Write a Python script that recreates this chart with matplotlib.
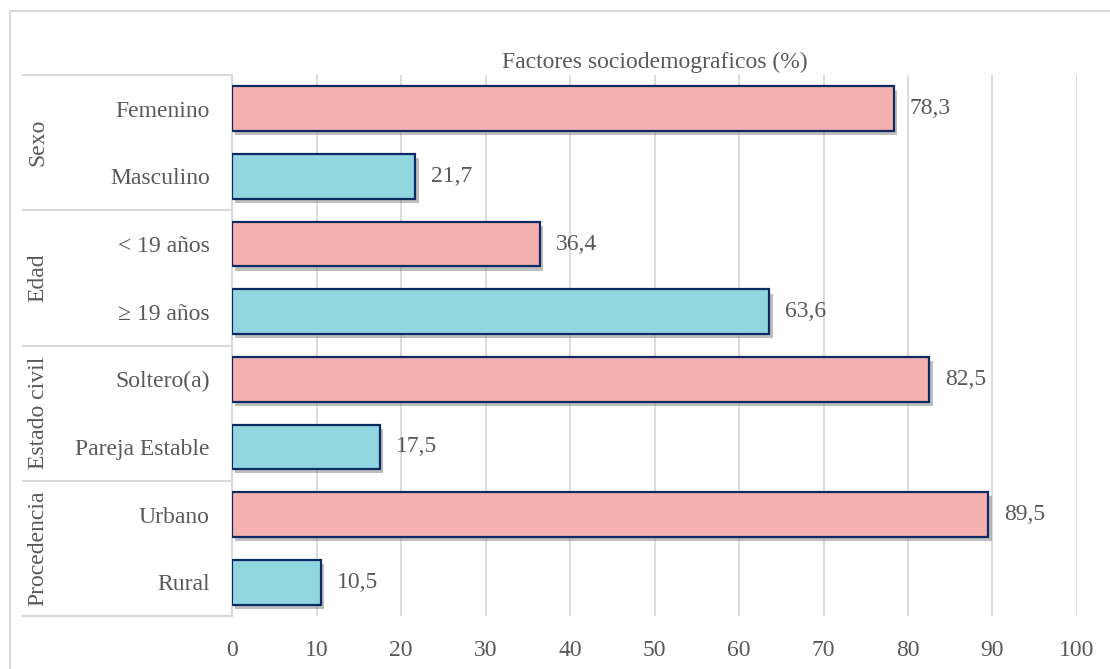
import matplotlib
matplotlib.use("Agg")
import matplotlib.pyplot as plt
import matplotlib.patheffects as pe
from matplotlib.patches import Rectangle
from matplotlib.transforms import blended_transform_factory

# data
categories = ['Femenino', 'Masculino', '< 19 años', '≥ 19 años',
              'Soltero(a)', 'Pareja Estable', 'Urbano', 'Rural']
values = [78.3, 21.7, 36.4, 63.6, 82.5, 17.5, 89.5, 10.5]
groups = ['Sexo', 'Edad', 'Estado civil', 'Procedencia']
title = 'Factores sociodemograficos (%)'

PINK = '#F5B1AF'
CYAN = '#91D6DE'
EDGE = '#0E2A62'
GRID = '#D9D9D9'
TXT = '#595959'

plt.rcParams['font.family'] = ['Liberation Serif', 'DejaVu Serif']
FS = 17

W, H = 1110, 669
fig = plt.figure(figsize=(W / 100, H / 100), dpi=100)
ax = fig.add_axes([232 / W, 1 - 616 / H, (1077 - 232) / W, (616 - 75) / H])

ypos = list(range(len(categories)))
colors = [PINK if i % 2 == 0 else CYAN for i in ypos]
bars = ax.barh(ypos, values, height=0.66, color=colors, edgecolor=EDGE,
               linewidth=1.6, zorder=3)
for b in bars:
    b.set_path_effects([pe.SimplePatchShadow(offset=(2.5, -3), shadow_rgbFace='#7f7f7f', alpha=0.5),
                        pe.Normal()])

for y, v in zip(ypos, values):
    ax.text(v + 1.9, y, f'{v:.1f}'.replace('.', ','), va='center', ha='left',
            fontsize=FS, color=TXT)

ax.set_xlim(0, 100)
ax.set_ylim(len(categories) - 0.5, -0.5)
ax.set_xticks(range(0, 101, 10))
ax.set_yticks(ypos)
ax.set_yticklabels(categories)
ax.tick_params(axis='both', length=0, labelsize=FS, labelcolor=TXT)
ax.tick_params(axis='y', pad=16)
ax.tick_params(axis='x', pad=17)
ax.grid(axis='x', color=GRID, linewidth=1.3, zorder=0)
for s in ['top', 'right', 'bottom']:
    ax.spines[s].set_visible(False)
ax.spines['left'].set_color(GRID)
ax.spines['left'].set_linewidth(1.5)

ax.set_title(title, fontsize=FS, color=TXT, pad=5)

# group separators and labels on the left
tr = blended_transform_factory(fig.transFigure, ax.transData)
for k in range(len(groups) + 1):
    yb = 2 * k - 0.5
    ax.plot([23 / W, 232 / W], [yb, yb], transform=tr, color=GRID, lw=1.5,
            clip_on=False, zorder=1)
for k, g in enumerate(groups):
    ax.text(38 / W, 2 * k + 0.5, g, transform=tr, rotation=90, ha='center',
            va='center', fontsize=FS, color=TXT)

# outer chart border
fig.patches.append(Rectangle((10 / W, -0.05), 1.2, 1 - 11 / H + 0.05,
                             transform=fig.transFigure, fill=False,
                             edgecolor=GRID, linewidth=1.5))

fig.savefig('out.png', dpi=100)
